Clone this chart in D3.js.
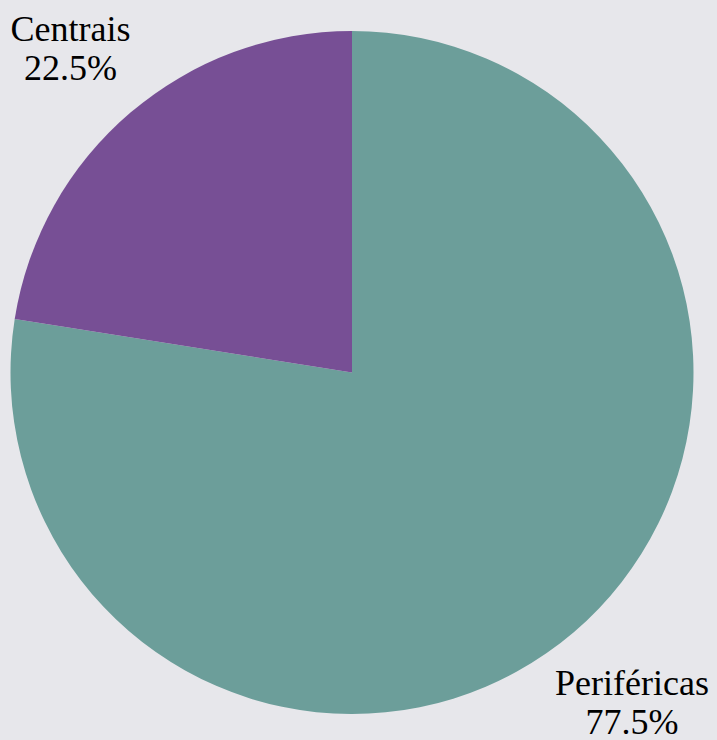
<!DOCTYPE html>
<html>
<head>
<meta charset="utf-8">
<script src="https://cdn.jsdelivr.net/npm/d3@7/dist/d3.min.js"></script>
</head>
<body style="margin:0; background:#e7e7eb">
<svg id="chart" width="717" height="740" style="display:block"></svg>
<script>
// Share of each category (percent)
const categories = ["Perif\u00e9ricas", "Centrais"];
const values = [77.5, 22.5];
const colors = ["#6c9e9a", "#774f95"];

const width = 717, height = 740;
const cx = 352, cy = 372.5, radius = 341.5;

const svg = d3.select("#chart");
svg.append("rect").attr("width", width).attr("height", height).attr("fill", "#e7e7eb");

const data = categories.map((c, i) => ({ name: c, value: values[i], color: colors[i] }));

// Slices start at 12 o'clock and run clockwise in data order
const pie = d3.pie().value(d => d.value).sort(null);
const arc = d3.arc().innerRadius(0).outerRadius(radius);

const g = svg.append("g").attr("transform", `translate(${cx},${cy})`);
g.selectAll("path")
  .data(pie(data))
  .join("path")
  .attr("d", arc)
  .attr("fill", d => d.data.color);

// Two-line labels (name, percentage) outside the pie corners
const labelPos = {
  "Perif\u00e9ricas": [632, 695],
  "Centrais": [70.5, 41]
};
const fmt = d3.format(".1f");
data.forEach(d => {
  const [x, y] = labelPos[d.name];
  [d.name, fmt(d.value) + "%"].forEach((line, k) => {
    svg.append("text")
      .attr("x", x).attr("y", y + k * 39)
      .attr("text-anchor", "middle")
      .attr("font-family", "'Liberation Serif', 'Times New Roman', serif")
      .attr("font-size", 36)
      .attr("fill", "#000")
      .text(line);
  });
});
</script>
</body>
</html>
